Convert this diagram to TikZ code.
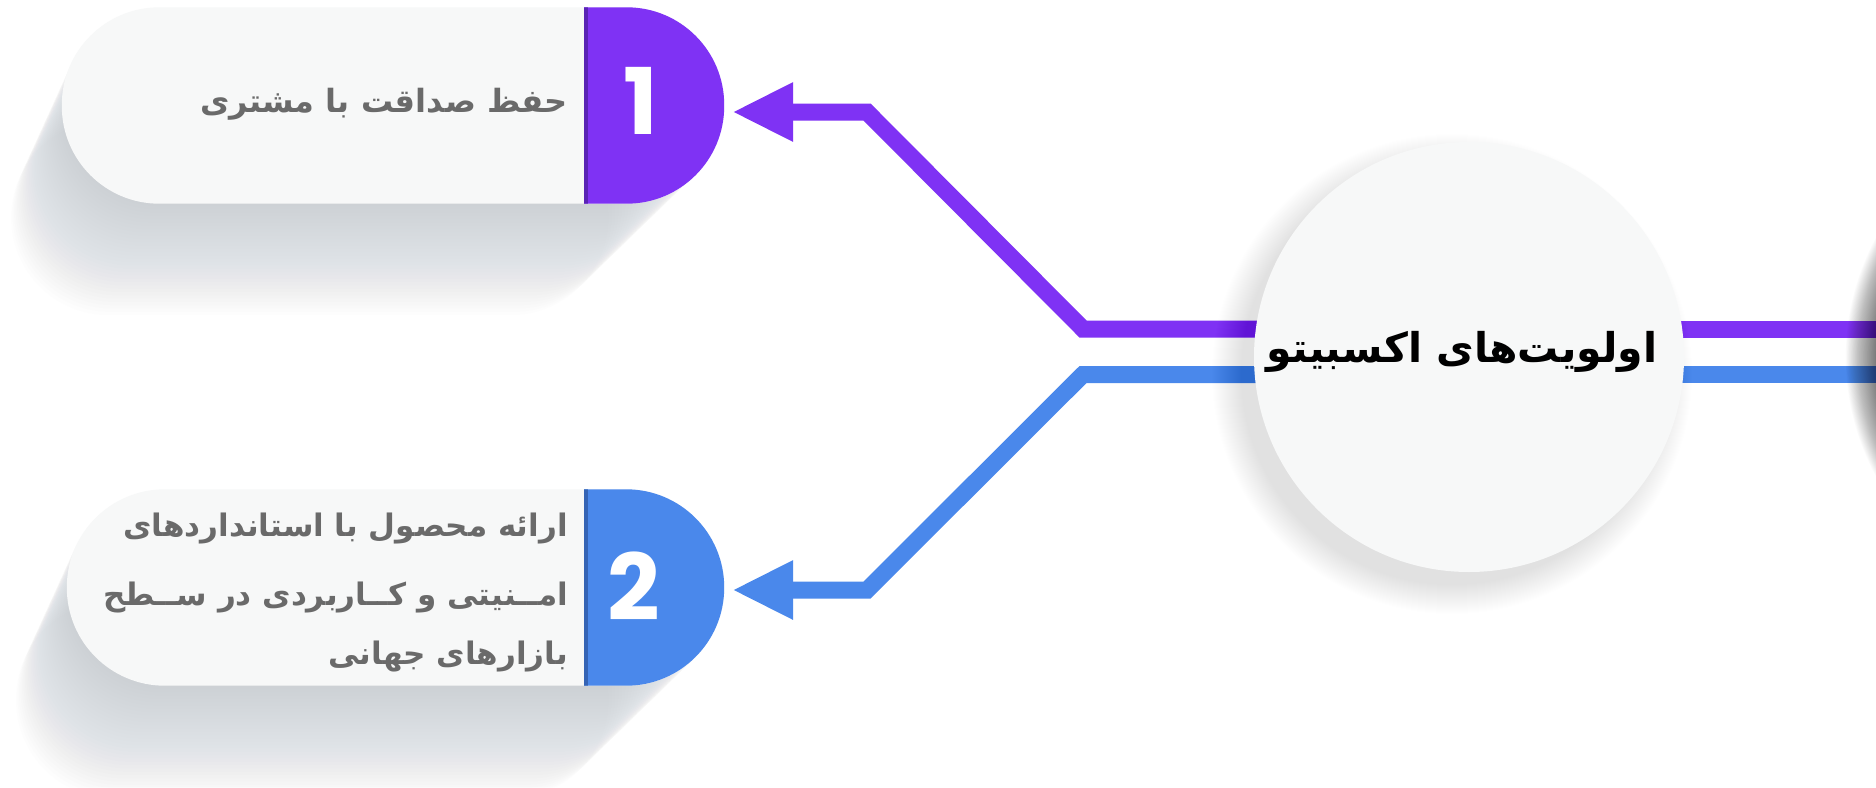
\documentclass[tikz,border=0pt]{standalone}
\usepackage{fontspec}
\usetikzlibrary{arrows.meta}
\TeXXeTstate=1
\newfontfamily\fa[Script=Arabic]{DejaVu Sans}
\newfontfamily\numfont{Poppins}
\definecolor{pur}{HTML}{7F32F4}
\definecolor{purdark}{HTML}{5A24B5}
\definecolor{blu}{HTML}{4A88EB}
\definecolor{bludark}{HTML}{3564B5}
\definecolor{light}{HTML}{F7F8F8}
\definecolor{txtgray}{HTML}{6A6A6A}
\definecolor{shadowc}{HTML}{8A939B}
\tikzset{
  pline/.style={line width=17pt, draw=pur, line join=miter},
  bline/.style={line width=17pt, draw=blu, line join=miter},
  tip/.style={-{Triangle[length=61pt,width=55pt]}},
  boxnode/.style={inner sep=0pt, minimum width=#1, minimum height=196pt},
  numtxt/.style={text=white, font=\numfont\bfseries\fontsize{92}{92}\selectfont, inner sep=0pt},
  fatxt/.style={text=txtgray, font=\fa\bfseries\fontsize{32}{36}\selectfont, inner sep=0pt, anchor=east},
  fatxtb/.style={fatxt, font=\fa\bfseries\fontsize{31}{36}\selectfont},
  boxshadow/.style={shadowc, opacity=0.011, rounded corners=97.5pt},
}
\begin{document}
\begin{tikzpicture}[x=1pt,y=-1pt]
\useasboundingbox (0,0) rectangle (1876,787);
\fill[white] (0,0) rectangle (1876,787);

% named places
\node[boxnode=662pt] (b1) at (393,105.5) {};
\node[boxnode=657pt] (b2) at (395.5,587.5) {};
\coordinate (pin1) at (1469,329);
\coordinate (pin2) at (1469,374.5);
\coordinate (j1) at (1083,329);
\coordinate (j2) at (1083,374.5);
\coordinate (k1) at (867,112);
\coordinate (k2) at (867,590);
\coordinate (t1) at ([shift={(8,6.5)}]b1.east);
\coordinate (t2) at ([shift={(8,2.5)}]b2.east);
\coordinate (e1) at (1880,329);
\coordinate (e2) at (1880,374.5);

% long shadows of the boxes
\foreach \i in {1,...,34}{
  \fill[boxshadow] (62-1.5*\i, 8+3.3*\i) rectangle (724-3.4*\i, 203+3.3*\i);
  \fill[boxshadow] (67-1.5*\i, 489+3.3*\i) rectangle (724-3.4*\i, 686+3.3*\i);
}

% boxes
\fill[light, rounded corners=97.5pt] (b1.north west) rectangle (b1.south east);
\begin{scope}
  \clip[rounded corners=97.5pt] (b1.north west) rectangle (b1.south east);
  \fill[pur] (584,0) rectangle (800,300);
  \fill[purdark] (584,0) rectangle (587.5,300);
\end{scope}
\fill[light, rounded corners=98pt] (b2.north west) rectangle (b2.south east);
\begin{scope}
  \clip[rounded corners=98pt] (b2.north west) rectangle (b2.south east);
  \fill[blu] (584,400) rectangle (800,787);
  \fill[bludark] (584,400) rectangle (587.5,787);
\end{scope}

% connectors
\draw[pline, tip] (pin1) -- (j1) -- (k1) -- (t1);
\draw[bline, tip] (pin2) -- (j2) -- (k2) -- (t2);
\draw[pline] (pin1) -- (e1);
\draw[bline] (pin2) -- (e2);

% shadow of the central circle
\foreach \k in {1,...,30}{
  \pgfmathsetmacro\r{210+\k}
  \fill[black, opacity=0.004] (1452,374) circle[radius=\r pt];
}
\node[circle, fill=light, minimum size=430pt, inner sep=0pt] (c) at (1469,357) {};
\node[font=\fa\bfseries\fontsize{41}{44}\selectfont, text=black, inner sep=0pt] (ct) at (1462,352) {\beginR اولویت‌های اکسبیتو\endR};

% node cut off at the right edge, with its shadow
\foreach \k in {0,...,44}{
  \pgfmathsetmacro\r{215+0.8*\k}
  \fill[black, opacity=0.016] (2096,357) circle[radius=\r pt];
}
\node[circle, fill=light, minimum size=430pt, inner sep=0pt] (c2) at (2096,357) {};

% texts
\node[numtxt] (n1) at (641,101) {1};
\node[numtxt] (n2) at (634,586) {2};
\node[fatxt] (t1a) at (568,104) {\beginR حفظ صداقت با مشتری\endR};
\node[fatxtb] (t2a) at (568,529) {\beginR ارائه محصول با استانداردهای\endR};
\node[fatxtb] (t2b) at (568,597) {\beginR امــنیتی و کــاربردی در ســطح\endR};
\node[fatxtb] (t2c) at (568,657) {\beginR بازارهای جهانی\endR};
\end{tikzpicture}
\end{document}
